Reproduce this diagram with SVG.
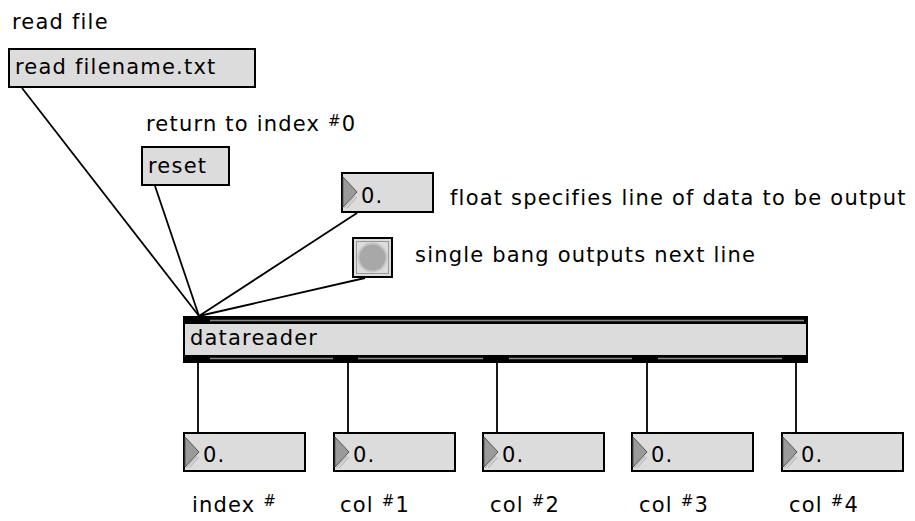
<svg xmlns="http://www.w3.org/2000/svg" width="915" height="521" viewBox="0 0 915 521">
<defs>
<style>
text{font-family:"DejaVu Sans","Liberation Sans",sans-serif;font-size:21px;letter-spacing:1.2px;fill:#000}
.box{fill:#dcdcdc;stroke:#000;stroke-width:2}
.wire{stroke:#000;stroke-width:1.8;fill:none}
.tri{fill:#9a9a9a;stroke:#555;stroke-width:1}
.hatch{stroke:#aaa;stroke-width:1}
.sup{font-size:15px}
.gline{stroke:#8a8a8a;stroke-width:1.5}
</style>
<g id="numtri">
<polygon class="tri" points="1,3 15,18 1,33"/>
<line class="hatch" x1="2" y1="34" x2="13" y2="22"/>
<line class="hatch" x1="5" y1="34" x2="15" y2="23"/>
</g>
</defs>
<rect width="915" height="521" fill="#fff"/>

<g id="connectors">
<line class="wire" x1="22" y1="88" x2="199" y2="316"/>
<line class="wire" x1="155" y1="186" x2="199" y2="316"/>
<line class="wire" x1="357" y1="213" x2="199" y2="316"/>
<line class="wire" x1="365" y1="278" x2="199" y2="316"/>
<line class="wire" x1="198" y1="362" x2="198" y2="433"/>
<line class="wire" x1="348" y1="362" x2="348" y2="433"/>
<line class="wire" x1="497" y1="362" x2="497" y2="433"/>
<line class="wire" x1="647" y1="362" x2="647" y2="433"/>
<line class="wire" x1="796" y1="362" x2="796" y2="433"/>
</g>

<g id="label-read-file"><text x="12" y="29">read file</text></g>

<g id="msg-read">
<rect class="box" x="9" y="49" width="246" height="38"/>
<text x="15" y="74">read filename.txt</text>
</g>

<g id="label-return"><text x="146" y="131">return to index <tspan class="sup" dy="-5">#</tspan><tspan dy="5">0</tspan></text></g>

<g id="msg-reset">
<rect class="box" x="142" y="147" width="87" height="38"/>
<text x="148" y="173">reset</text>
</g>

<g id="float-in">
<rect class="box" x="342" y="173" width="91" height="39"/>
<use href="#numtri" x="342" y="174"/>
<text x="361" y="203">0.</text>
</g>
<g id="label-float"><text x="450" y="205">float specifies line of data to be output</text></g>

<g id="bang">
<rect class="box" x="353" y="238" width="39" height="39"/>
<rect x="356.5" y="241.5" width="32" height="32" fill="none" stroke="#9a9a9a" stroke-width="1"/>
<circle cx="372.5" cy="257.5" r="14" fill="#a8a8a8" stroke="#c4c4c4" stroke-width="2"/>
</g>
<g id="label-bang"><text x="415" y="262">single bang outputs next line</text></g>

<g id="datareader">
<rect class="box" x="184" y="317" width="623" height="45"/>
<rect x="184" y="317" width="623" height="7" fill="#000"/>
<line class="gline" x1="210" y1="320.5" x2="804" y2="320.5"/>
<rect x="184" y="355" width="623" height="7" fill="#000"/>
<line class="gline" x1="210" y1="358.5" x2="333" y2="358.5"/>
<line class="gline" x1="358" y1="358.5" x2="483" y2="358.5"/>
<line class="gline" x1="509" y1="358.5" x2="632" y2="358.5"/>
<line class="gline" x1="658" y1="358.5" x2="782" y2="358.5"/>
<text x="190" y="345">datareader</text>
</g>

<g id="out-index">
<rect class="box" x="184" y="433" width="121" height="38"/>
<use href="#numtri" x="184" y="434"/>
<text x="203" y="462">0.</text>
</g>
<g id="out-col1">
<rect class="box" x="334" y="433" width="121" height="38"/>
<use href="#numtri" x="334" y="434"/>
<text x="353" y="462">0.</text>
</g>
<g id="out-col2">
<rect class="box" x="483" y="433" width="121" height="38"/>
<use href="#numtri" x="483" y="434"/>
<text x="502" y="462">0.</text>
</g>
<g id="out-col3">
<rect class="box" x="632" y="433" width="121" height="38"/>
<use href="#numtri" x="632" y="434"/>
<text x="651" y="462">0.</text>
</g>
<g id="out-col4">
<rect class="box" x="782" y="433" width="121" height="38"/>
<use href="#numtri" x="782" y="434"/>
<text x="801" y="462">0.</text>
</g>

<g id="labels-bottom">
<text x="192" y="512">index <tspan class="sup" dy="-6">#</tspan></text>
<text x="340" y="512">col <tspan class="sup" dy="-6">#</tspan><tspan dy="6">1</tspan></text>
<text x="490" y="512">col <tspan class="sup" dy="-6">#</tspan><tspan dy="6">2</tspan></text>
<text x="639" y="512">col <tspan class="sup" dy="-6">#</tspan><tspan dy="6">3</tspan></text>
<text x="789" y="512">col <tspan class="sup" dy="-6">#</tspan><tspan dy="6">4</tspan></text>
</g>
</svg>
